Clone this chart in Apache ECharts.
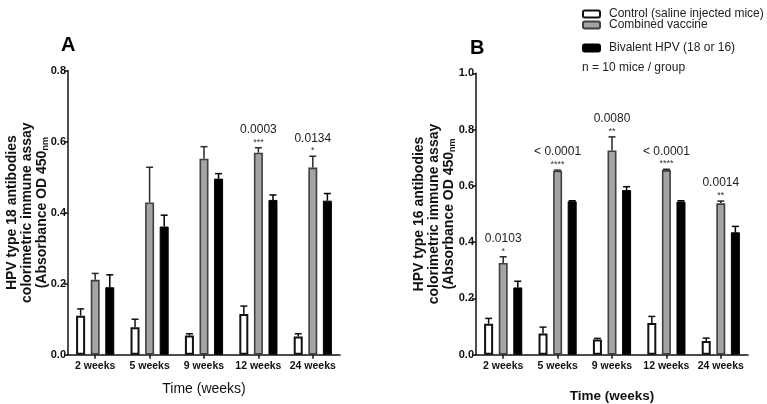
<!DOCTYPE html>
<html>
<head>
<meta charset="utf-8">
<script src="https://cdn.jsdelivr.net/npm/echarts@6/dist/echarts.min.js"></script>
<style>
html,body{margin:0;padding:0;background:#fff;}
#c{width:767px;height:404px;}
</style>
</head>
<body>
<div id="c"></div>
<script>
// ---- data ----
const categories = ['2 weeks', '5 weeks', '9 weeks', '12 weeks', '24 weeks'];
const groupNames = ['Control (saline injected mice)', 'Combined vaccine', 'Bivalent HPV (18 or 16)'];

// Panel A: HPV type 18 (mean, SEM)
const aControl    = [0.110, 0.077, 0.054, 0.115, 0.051];
const aControlSem = [0.019, 0.023, 0.005, 0.022, 0.008];
const aCombined    = [0.211, 0.429, 0.552, 0.569, 0.527];
const aCombinedSem = [0.018, 0.099, 0.034, 0.014, 0.032];
const aBivalent    = [0.190, 0.361, 0.496, 0.436, 0.434];
const aBivalentSem = [0.035, 0.032, 0.014, 0.014, 0.020];
const aPValues = ['', '', '', '0.0003', '0.0134'];
const aStars   = ['', '', '', '***', '*'];

// Panel B: HPV type 16 (mean, SEM)
const bControl    = [0.110, 0.075, 0.054, 0.113, 0.049];
const bControlSem = [0.019, 0.023, 0.004, 0.023, 0.010];
const bCombined    = [0.326, 0.654, 0.726, 0.656, 0.538];
const bCombinedSem = [0.022, 0.002, 0.048, 0.003, 0.008];
const bBivalent    = [0.239, 0.545, 0.585, 0.544, 0.435];
const bBivalentSem = [0.022, 0.002, 0.012, 0.003, 0.021];
const bPValues = ['0.0103', '< 0.0001', '0.0080', '< 0.0001', '0.0014'];
const bStars   = ['*', '****', '**', '****', '**'];

const aTicks = [0, 0.2, 0.4, 0.6, 0.8];
const bTicks = [0, 0.2, 0.4, 0.6, 0.8, 1.0];

// ---- styles ----
const FONT = "'Liberation Sans', Arial, sans-serif";
const BW = 9, GAP = 0.62;
const STEP = BW * (1 + GAP);
const styles = [
  {color: '#ffffff', borderColor: '#111111', borderWidth: 2, err: '#111111'},
  {color: '#a3a3a8', borderColor: '#404040', borderWidth: 1.6, err: '#2a2a2a'},
  {color: '#000000', borderColor: '#000000', borderWidth: 1, err: '#000000'}
];

const chart = echarts.init(document.getElementById('c'));

function makeBars(idx, arrs) {
  return arrs.map((vals, g) => ({
    type: 'bar', name: groupNames[g], xAxisIndex: idx, yAxisIndex: idx,
    data: vals, barWidth: BW, barGap: (GAP * 100) + '%',
    itemStyle: {color: styles[g].color, borderColor: styles[g].borderColor, borderWidth: styles[g].borderWidth},
    emphasis: {disabled: true},
    z: 3
  }));
}

function makeErr(idx, means, sems, g) {
  return {
    type: 'custom', xAxisIndex: idx, yAxisIndex: idx, z: 2,
    data: means.map((m, i) => [i, m, sems[i]]),
    renderItem: function (params, api) {
      const i = api.value(0), m = api.value(1), e = api.value(2);
      const p0 = api.coord([i, m]);
      const p1 = api.coord([i, m + e]);
      const x = p0[0] + (g - 1) * STEP;
      const st = {stroke: styles[g].err, lineWidth: 1.5};
      return {type: 'group', children: [
        {type: 'line', shape: {x1: x, y1: p0[1], x2: x, y2: p1[1]}, style: st},
        {type: 'line', shape: {x1: x - 3.5, y1: p1[1], x2: x + 3.5, y2: p1[1]}, style: st}
      ]};
    }
  };
}

function makeAnnot(idx, means, sems, pv, stars) {
  return {
    type: 'custom', xAxisIndex: idx, yAxisIndex: idx, z: 5,
    data: means.map((m, i) => [i, m + sems[i]]),
    renderItem: function (params, api) {
      const i = params.dataIndex;
      const p = api.coord([api.value(0), api.value(1)]);
      return {type: 'group', children: [
        {type: 'text', style: {text: stars[i], x: p[0], y: p[1] - 1, align: 'center', verticalAlign: 'bottom',
          font: '9px ' + FONT, fill: '#333'}},
        {type: 'text', style: {text: pv[i], x: p[0], y: p[1] - 12, align: 'center', verticalAlign: 'bottom',
          font: '12px ' + FONT, fill: '#222'}}
      ]};
    }
  };
}

const axisLine = {show: true, lineStyle: {color: '#111', width: 1.5}};
const axisTick = {show: true, length: 4, lineStyle: {color: '#111', width: 1.5}};

function yName(type) {
  return '{t|HPV type ' + type + ' antibodies}\n{t|colorimetric immune assay}\n{t|(Absorbance OD 450}{s|nm}';
}
const yNameStyle = {
  lineHeight: 15,
  rich: {
    t: {fontFamily: FONT, fontSize: 14, fontWeight: 'bold', color: '#111', lineHeight: 15},
    s: {fontFamily: FONT, fontSize: 9, fontWeight: 'bold', color: '#111', lineHeight: 15, verticalAlign: 'bottom', padding: [5, 0, 0, 0]}
  }
};
const yLabel = {fontFamily: FONT, fontSize: 11, fontWeight: 'bold', color: '#111', margin: 2, formatter: v => v.toFixed(1)};

const option = {
  animation: false,
  backgroundColor: '#fff',
  textStyle: {fontFamily: FONT},
  title: [
    {text: 'A', left: 61, top: 35, padding: 0, textStyle: {fontFamily: FONT, fontSize: 20, fontWeight: 'bold', color: '#000'}},
    {text: 'B', left: 470, top: 38, padding: 0, textStyle: {fontFamily: FONT, fontSize: 20, fontWeight: 'bold', color: '#000'}}
  ],
  legend: groupNames.map((n, g) => ({
    data: [n], left: 582, top: [8, 19, 42][g], padding: 0,
    itemWidth: 17, itemHeight: 7, icon: 'roundRect', selectedMode: false,
    textStyle: {fontFamily: FONT, fontSize: 12, color: '#222', padding: [0, 0, 0, 4]}
  })),
  graphic: [
    {type: 'text', left: 582, top: 62, style: {text: 'n = 10 mice / group', font: '12px ' + FONT, fill: '#222'}}
  ],
  grid: [
    {left: 68, top: 70.7, width: 272, height: 284, outerBoundsMode: 'none', containLabel: false},
    {left: 476, top: 73.3, width: 272, height: 281.4, outerBoundsMode: 'none', containLabel: false}
  ],
  xAxis: [0, 1].map(idx => ({
    type: 'category', gridIndex: idx, data: categories,
    axisLine: axisLine, axisTick: Object.assign({alignWithLabel: true}, axisTick),
    axisLabel: {fontFamily: FONT, fontSize: 10.5, fontWeight: 'bold', color: '#111', margin: 6, interval: 0},
    name: 'Time (weeks)', nameLocation: 'middle', nameGap: idx === 0 ? 27 : 35, nameMoveOverlap: false,
    nameTextStyle: {fontFamily: FONT, fontSize: idx === 0 ? 14 : 13.5, fontWeight: idx === 0 ? 'normal' : 'bold', color: '#111'}
  })),
  yAxis: [
    {type: 'value', gridIndex: 0, min: aTicks[0], max: aTicks[aTicks.length - 1], interval: 0.2,
     axisLine: axisLine, axisTick: axisTick, splitLine: {show: false}, axisLabel: yLabel,
     name: yName(18), nameLocation: 'middle', nameRotate: 90, nameGap: 18, nameMoveOverlap: false, nameTextStyle: yNameStyle},
    {type: 'value', gridIndex: 1, min: bTicks[0], max: bTicks[bTicks.length - 1], interval: 0.2,
     axisLine: axisLine, axisTick: axisTick, splitLine: {show: false}, axisLabel: yLabel,
     name: yName(16), nameLocation: 'middle', nameRotate: 90, nameGap: 19, nameMoveOverlap: false, nameTextStyle: yNameStyle}
  ],
  series: [].concat(
    makeBars(0, [aControl, aCombined, aBivalent]),
    makeBars(1, [bControl, bCombined, bBivalent]),
    [makeErr(0, aControl, aControlSem, 0), makeErr(0, aCombined, aCombinedSem, 1), makeErr(0, aBivalent, aBivalentSem, 2),
     makeErr(1, bControl, bControlSem, 0), makeErr(1, bCombined, bCombinedSem, 1), makeErr(1, bBivalent, bBivalentSem, 2),
     makeAnnot(0, aCombined, aCombinedSem, aPValues, aStars),
     makeAnnot(1, bCombined, bCombinedSem, bPValues, bStars)]
  )
};
chart.setOption(option);
</script>
</body>
</html>
